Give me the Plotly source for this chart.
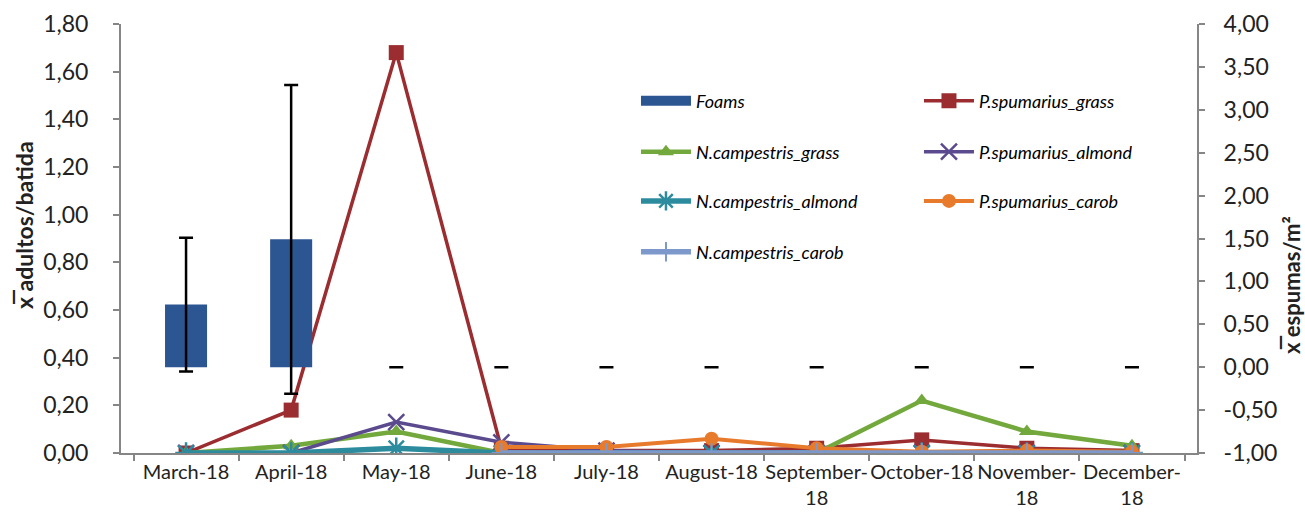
import plotly.graph_objects as go

months = ["March-18", "April-18", "May-18", "June-18", "July-18", "August-18",
          "September-<br>18", "October-18", "November-<br>18", "December-<br>18"]

foams = [0.73, 1.49, 0, 0, 0, 0, 0, 0, 0, 0]
foams_err = [0.78, 1.80, 0, 0, 0, 0, 0, 0, 0, 0]

p_sp_grass = [0.0, 0.18, 1.68, 0.02, 0.01, 0.01, 0.02, 0.055, 0.02, 0.01]
n_ca_grass = [0.0, 0.03, 0.09, 0.0, 0.0, 0.0, 0.0, 0.22, 0.09, 0.03]
p_sp_almond = [0.0, 0.0, 0.13, 0.045, 0.01, 0.0, 0.0, 0.0, 0.0, 0.0]
n_ca_almond = [0.0, 0.0, 0.02, 0.0, 0.0, 0.0, 0.0, 0.0, 0.0, 0.0]
p_sp_carob = [None, None, None, 0.025, 0.025, 0.06, 0.02, 0.005, 0.01, 0.005]
n_ca_carob = [None, None, None, 0.0, 0.0, 0.0, 0.0, 0.0, 0.0, 0.0]

left_ticks = [0, 0.2, 0.4, 0.6, 0.8, 1.0, 1.2, 1.4, 1.6, 1.8]
left_labels = ["0,00", "0,20", "0,40", "0,60", "0,80", "1,00", "1,20", "1,40", "1,60", "1,80"]
right_ticks = [-1, -0.5, 0, 0.5, 1, 1.5, 2, 2.5, 3, 3.5, 4]
right_labels = ["-1,00", "-0,50", "0,00", "0,50", "1,00", "1,50", "2,00", "2,50", "3,00", "3,50", "4,00"]

FONT = "Lato, 'Open Sans', sans-serif"
BAR_COLOR = "#2C5692"

fig = go.Figure()

fig.add_trace(go.Bar(
    x=months, y=foams, name="Foams", yaxis="y2", width=0.4,
    marker=dict(color=BAR_COLOR, line=dict(width=0)),
    error_y=dict(type="data", array=foams_err, visible=True, color="black",
                 thickness=2.5, width=7),
    showlegend=False,
))
# legend proxy for the bars (wide bar-like symbol)
fig.add_trace(go.Scatter(
    x=months, y=[None] * len(months), name="Foams", mode="lines",
    line=dict(color=BAR_COLOR, width=10), legend="legend", hoverinfo="skip",
))

def line_trace(y, name, color, symbol, size, lw, legend, mlw=0):
    return go.Scatter(
        x=months, y=y, name=name, mode="lines+markers",
        line=dict(color=color, width=lw),
        marker=dict(symbol=symbol, size=size, color=color,
                    line=dict(color=color, width=mlw)),
        legend=legend,
    )

fig.add_trace(line_trace(p_sp_grass, "P.spumarius_grass", "#9B2D30", "square", 15, 3.5, "legend"))
fig.add_trace(line_trace(n_ca_grass, "N.campestris_grass", "#72A83C", "triangle-up", 14, 4.5, "legend2"))
fig.add_trace(line_trace(p_sp_almond, "P.spumarius_almond", "#5B4A8E", "x-thin-open", 16, 3.5, "legend2", mlw=2.5))
fig.add_trace(line_trace(n_ca_almond, "N.campestris_almond", "#2C8C9E", "asterisk-open", 18, 5.5, "legend3", mlw=2.5))
fig.add_trace(line_trace(p_sp_carob, "P.spumarius_carob", "#E87A2C", "circle", 14, 4, "legend3"))
fig.add_trace(line_trace(n_ca_carob, "N.campestris_carob", "#7D98CA", "cross-thin-open", 14, 5.5, "legend4", mlw=2))

legend_common = dict(orientation="h", xanchor="left", yanchor="middle",
                     entrywidth=218, entrywidthmode="pixels",
                     font=dict(family=FONT, size=18, color="black", style="italic"),
                     bgcolor="rgba(0,0,0,0)", itemwidth=50)

LX = 0.4786

fig.update_layout(
    width=1305, height=518,
    margin=dict(l=121, r=108, t=24, b=65),
    paper_bgcolor="white", plot_bgcolor="white",
    separators=",.",
    font=dict(family=FONT, color="#222"),
    showlegend=True,
    legend=dict(x=LX, y=0.8205, **legend_common),
    legend2=dict(x=LX, y=0.7016, **legend_common),
    legend3=dict(x=LX, y=0.587, **legend_common),
    legend4=dict(x=LX, y=0.4685, **legend_common),
    xaxis=dict(
        showline=True, linecolor="#868686", linewidth=2,
        ticks="outside", tickson="boundaries", ticklen=6, tickcolor="#868686", tickwidth=2,
        tickfont=dict(family=FONT, size=20, color="#222"),
        showgrid=False, zeroline=False, tickangle=0, automargin=False,
    ),
    yaxis=dict(
        range=[0, 1.8], tickvals=left_ticks, ticktext=left_labels,
        showline=True, linecolor="#868686", linewidth=2,
        ticks="outside", ticklen=6, tickcolor="#868686", tickwidth=2,
        ticklabelstandoff=20,
        tickfont=dict(family=FONT, size=23, color="#222"),
        showgrid=False, zeroline=False, automargin=False,
    ),
    yaxis2=dict(
        range=[-1, 4], tickvals=right_ticks, ticktext=right_labels,
        overlaying="y", side="right",
        showline=True, linecolor="#868686", linewidth=2,
        ticks="outside", ticklen=6, tickcolor="#868686", tickwidth=2,
        ticklabelstandoff=14,
        tickfont=dict(family=FONT, size=23, color="#222"),
        showgrid=False, zeroline=False, automargin=False,
    ),
    annotations=[
        dict(text="<b>x\u0305 adultos/batida</b>", textangle=-90,
             xref="paper", yref="paper", x=(24 - 121) / 1076, y=(453 - 225) / 429,
             xanchor="center", yanchor="middle", showarrow=False,
             font=dict(family=FONT, size=23, color="#222")),
        dict(text="<b>x\u0305 espumas/m²</b>", textangle=-90,
             xref="paper", yref="paper", x=(1291 - 121) / 1076, y=(453 - 285) / 429,
             xanchor="center", yanchor="middle", showarrow=False,
             font=dict(family=FONT, size=22, color="#222")),
    ],
)

fig.write_html("out.html")
